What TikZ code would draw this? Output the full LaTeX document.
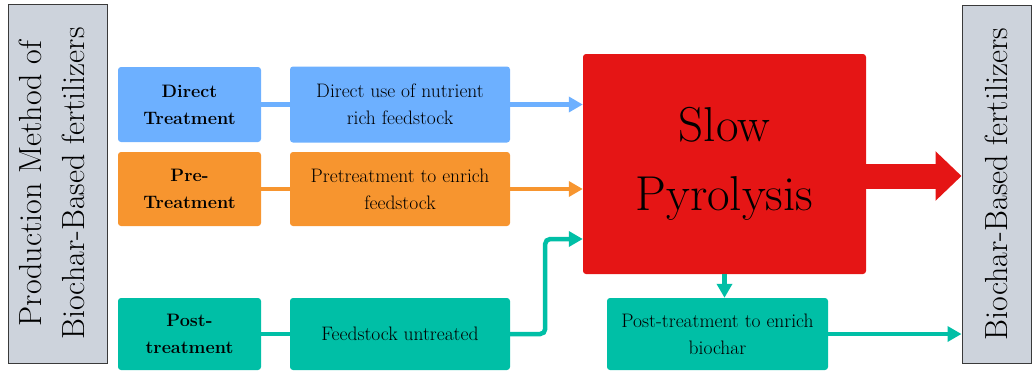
\documentclass[tikz,border=0pt]{standalone}
\usetikzlibrary{arrows.meta}
\definecolor{cblue}{HTML}{6DB0FF}
\definecolor{corange}{HTML}{F7952F}
\definecolor{cteal}{HTML}{00BFA6}
\definecolor{cred}{HTML}{E51515}
\definecolor{cgray}{HTML}{CDD3DC}
\definecolor{cedge}{HTML}{3A3A3A}
\begin{document}
\begin{tikzpicture}[x=1pt,y=-1pt,
  box/.style={rectangle, rounded corners=3pt, inner sep=2pt, align=center, text=black, font=\fontsize{19.5}{27}\selectfont},
  boldbox/.style={box, font=\fontsize{18}{27}\selectfont\bfseries},
  sidebox/.style={rectangle, draw=cedge, line width=1pt, fill=cgray, align=center, inner sep=0pt},
  sidetext/.style={rotate=90, align=center, font=\fontsize{32}{43}\selectfont},
  link/.style={line width=4.5pt},
  arr/.style={line width=4.5pt, -{Triangle[length=14pt,width=15pt]}}
]
\useasboundingbox (0,0) rectangle (1033,373);
% side boxes
\node[sidebox, minimum width=99, minimum height=359] (lb) at (57.5,183.5) {};
\node[sidetext] (lt) at ([xshift=-6pt]lb.center) {Production Method of\\Biochar-Based fertilizers};
\node[sidebox, minimum width=69, minimum height=358] (rb) at (996.5,184) {};
\node[sidetext] (rt) at (rb.center) {Biochar-Based fertilizers};
% row 1
\node[boldbox, fill=cblue, minimum width=143, minimum height=75] (dt) at (189.5,104.5) {Direct\\Treatment};
\node[box, fill=cblue, minimum width=220, minimum height=76] (du) at (400,104.5) {Direct use of nutrient\\rich feedstock};
% row 2
\node[boldbox, fill=corange, minimum width=143, minimum height=74] (pt) at (189.5,189) {Pre-\\Treatment};
\node[box, fill=corange, minimum width=220, minimum height=74] (pu) at (400,189) {Pretreatment to enrich\\feedstock};
% row 3
\node[boldbox, fill=cteal, minimum width=143, minimum height=72] (qt) at (189.5,334) {Post-\\treatment};
\node[box, fill=cteal, minimum width=220, minimum height=72] (fu) at (400,334) {Feedstock untreated};
% red box
\node[box, fill=cred, minimum width=283, minimum height=220, font=\fontsize{49}{69}\selectfont] (red) at (724.5,164) {Slow\\Pyrolysis};
% post-treatment box
\node[box, fill=cteal, minimum width=221, minimum height=72] (pb) at (717.5,334) {Post-treatment to enrich\\biochar};
% connectors
\draw[link, cblue] (dt.east) -- (du.west);
\draw[arr, cblue] (du.east) -- (du.east -| red.west);
\draw[link, corange] (pt.east) -- (pu.west);
\draw[arr, corange] (pu.east) -- (pu.east -| red.west);
\draw[link, cteal] (qt.east) -- (fu.west);
\draw[arr, cteal, rounded corners=5pt] (fu.east) -- ([xshift=35pt]fu.east) |- ([yshift=-75pt]red.west);
\draw[arr, cteal] (red.south) -- (red.south |- pb.north);
\draw[arr, cteal] (pb.east) -- (pb.east -| rb.west);
\draw[cred, line width=25pt, -{Triangle[length=26pt,width=48pt]}] ([yshift=-12pt]red.east) -- ([yshift=-12pt]red.east -| rb.west);
\end{tikzpicture}
\end{document}
